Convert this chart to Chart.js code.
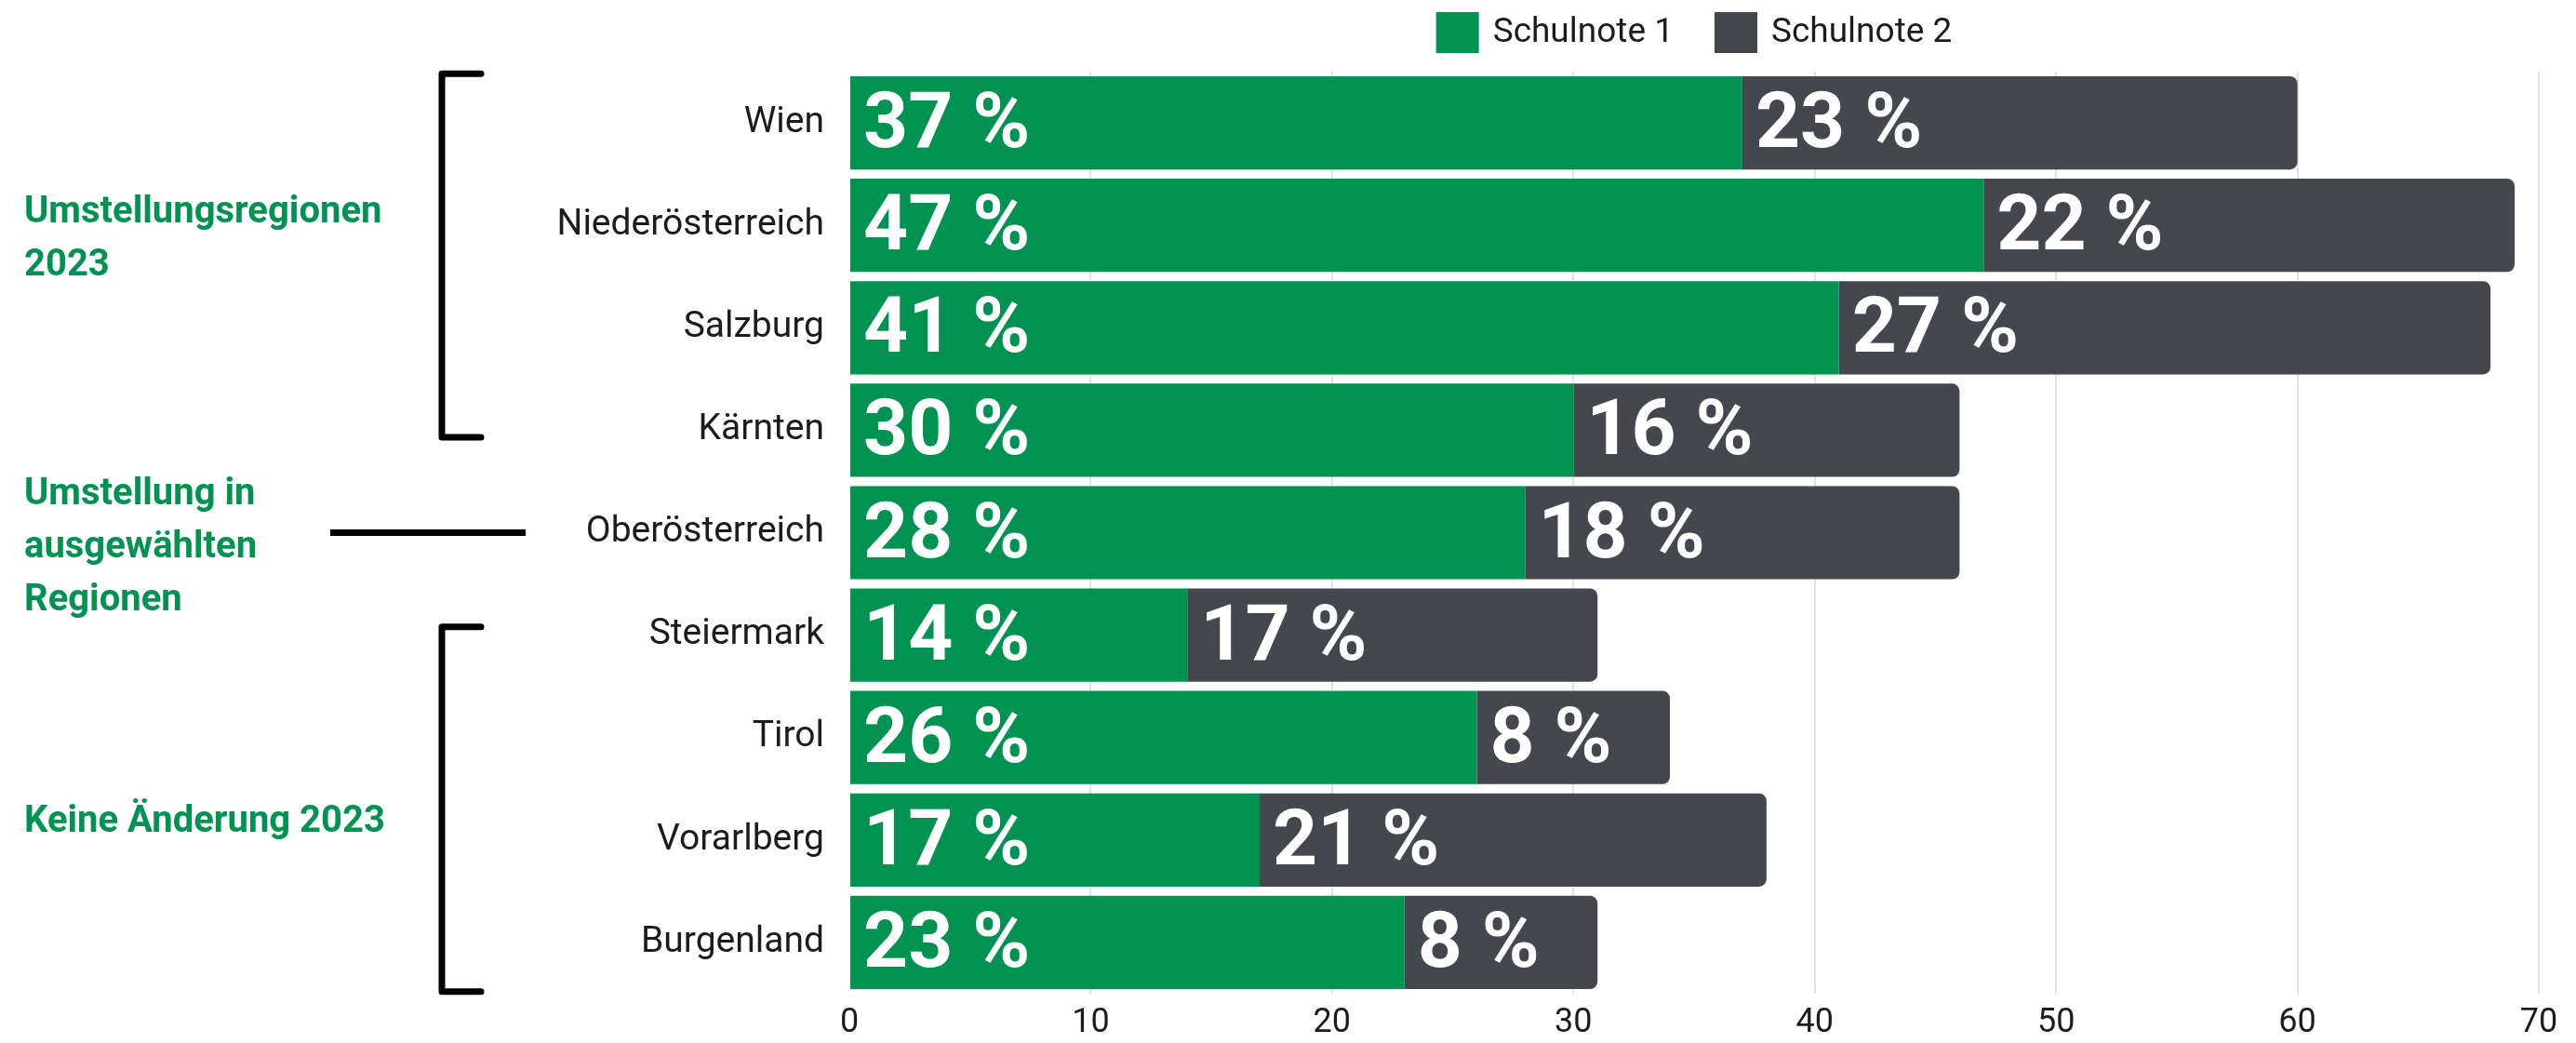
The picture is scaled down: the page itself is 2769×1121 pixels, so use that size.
<!DOCTYPE html>
<html>
<head>
<meta charset="utf-8">
<script src="https://cdn.jsdelivr.net/npm/chart.js@4.4.1/dist/chart.umd.min.js"></script>
<style>
  html, body { margin: 0; padding: 0; background: #fff; }
  #wrap { width: 2769px; height: 1121px; position: relative; }
</style>
</head>
<body>
<div id="wrap"><canvas id="chart"></canvas></div>
<script>
const regions = ['Wien', 'Niederösterreich', 'Salzburg', 'Kärnten', 'Oberösterreich',
                 'Steiermark', 'Tirol', 'Vorarlberg', 'Burgenland']
const note1 = [37, 47, 41, 30, 28, 14, 26, 17, 23]
const note2 = [23, 22, 27, 16, 18, 17, 8, 21, 8]
const seriesNames = ['Schulnote 1', 'Schulnote 2']
const xTicks = [0, 10, 20, 30, 40, 50, 60, 70]

// Gruppen links: Beschriftung + Klammerbereich (in Kategorie-Einheiten)
const groupLabels = [['Umstellungsregionen', '2023'], ['Umstellung in', 'ausgewählten', 'Regionen'], ['Keine Änderung 2023']]
const groupCenters = [1.14, 4.15, 6.83]
const groupBrackets = [[-0.48, 3.07], null, [4.92, 8.48]]
const groupLines = [null, 4, null]

const GREEN = '#009251'
const GRAY  = '#44474d'
const TEXT  = '#1c1c1c'
const FONT  = 'Roboto, "Noto Sans", sans-serif'

const valueLabels = {
  id: 'valueLabels',
  afterDatasetsDraw(chart) {
    const { ctx } = chart
    ctx.save()
    ctx.fillStyle = '#fff'
    ctx.font = `bold 84px ${FONT}`
    ctx.textAlign = 'left'
    ctx.textBaseline = 'alphabetic'
    chart.data.datasets.forEach((ds, i) => {
      chart.getDatasetMeta(i).data.forEach((bar, j) => {
        const left = Math.min(bar.base, bar.x)
        ctx.fillText(`${ds.data[j]} %`, left + 14, bar.y + 26)
      })
    })
    ctx.restore()
  }
}

const sideNotes = {
  id: 'sideNotes',
  afterDraw(chart) {
    const { ctx } = chart
    const y = chart.scales.y
    const cat = Math.abs(y.getPixelForValue(1) - y.getPixelForValue(0))
    ctx.save()

    // Legende, zentriert über der Zeichenfläche
    ctx.font = `37px ${FONT}`
    ctx.textBaseline = 'middle'
    const widths = seriesNames.map(n => ctx.measureText(n).width)
    const total = widths.reduce((a, w) => a + 46 + 15 + w, 0) + 44 * (seriesNames.length - 1)
    let lx = (chart.chartArea.left + chart.chartArea.right) / 2 - total / 2
    chart.data.datasets.forEach((ds, i) => {
      ctx.fillStyle = ds.backgroundColor
      ctx.fillRect(lx, 13, 46, 44)
      ctx.fillStyle = TEXT
      ctx.fillText(seriesNames[i], lx + 61, 36)
      lx += 61 + widths[i] + 44
    })

    // Gruppenbeschriftungen
    ctx.fillStyle = GREEN
    ctx.font = `bold 40px ${FONT}`
    ctx.textAlign = 'left'
    groupLabels.forEach((lines, g) => {
      const cy = y.getPixelForValue(groupCenters[g])
      const lh = 57
      lines.forEach((t, k) => {
        ctx.fillText(t, 26, cy + (k - (lines.length - 1) / 2) * lh)
      })
    })

    // Klammern und Linie
    ctx.strokeStyle = '#000'
    ctx.lineWidth = 7
    ctx.lineCap = 'round'
    ctx.lineJoin = 'round'
    groupBrackets.forEach(b => {
      if (!b) return
      const y0 = y.getPixelForValue(0) + b[0] * cat
      const y1 = y.getPixelForValue(0) + b[1] * cat
      ctx.beginPath()
      ctx.moveTo(517, y0)
      ctx.lineTo(475, y0)
      ctx.lineTo(475, y1)
      ctx.lineTo(517, y1)
      ctx.stroke()
    })
    groupLines.forEach(idx => {
      if (idx === null) return
      const ly = y.getPixelForValue(idx)
      ctx.lineCap = 'butt'
      ctx.beginPath()
      ctx.moveTo(355, ly)
      ctx.lineTo(565, ly)
      ctx.stroke()
    })
    ctx.restore()
  }
}

new Chart(document.getElementById('chart'), {
  type: 'bar',
  data: {
    labels: regions,
    datasets: [
      { label: seriesNames[0], data: note1, backgroundColor: GREEN, borderRadius: 0 },
      { label: seriesNames[1], data: note2, backgroundColor: GRAY, borderRadius: 8 },
    ],
  },
  options: {
    indexAxis: 'y',
    responsive: true,
    maintainAspectRatio: false,
    animation: false,
    devicePixelRatio: 1,
    layout: { padding: { top: 77, right: 40, bottom: 0, left: 0 } },
    datasets: { bar: { categoryPercentage: 1, barPercentage: 0.91 } },
    plugins: {
      legend: { display: false },
      tooltip: { enabled: false },
    },
    scales: {
      x: {
        stacked: true,
        min: 0,
        max: 70,
        afterBuildTicks: (s) => { s.ticks = xTicks.map(v => ({ value: v })) },
        afterFit: (s) => { s.height = 53 },
        border: { display: false },
        grid: {
          color: (c) => c.tick && c.tick.value === 0 ? 'rgba(0,0,0,0)' : '#e2e2e2',
          lineWidth: 2,
          drawTicks: false,
        },
        ticks: { color: TEXT, font: { family: FONT, size: 36 }, padding: 10 },
      },
      y: {
        stacked: true,
        afterFit: (s) => { s.width = 913 },
        border: { display: false },
        grid: { display: false, drawTicks: false },
        ticks: { color: TEXT, font: { family: FONT, size: 39 }, padding: 27 },
      },
    },
  },
  plugins: [valueLabels, sideNotes],
})
</script>
</body>
</html>
